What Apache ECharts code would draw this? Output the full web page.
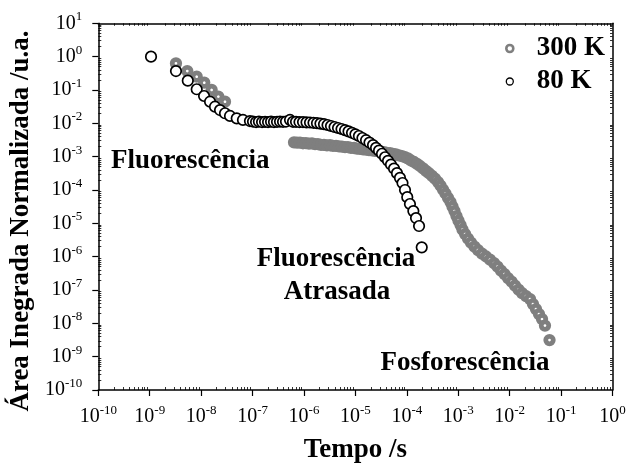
<!DOCTYPE html>
<html>
<head>
<meta charset="utf-8">
<script src="https://cdn.jsdelivr.net/npm/echarts@6/dist/echarts.min.js"></script>
<style>
  html, body { margin: 0; padding: 0; background: #fff; }
  #chart { width: 632px; height: 464px; }
</style>
</head>
<body>
<div id="chart"></div>
<script>
// Integrated emission area vs. time, two temperatures (log-log)

// 300 K: times (s) and normalized integrated area
const t300 = [
  3.24e-9, 5.38e-9, 8.2e-9, 1.15e-8, 1.6e-8, 2.16e-8, 2.91e-8,
  6.4e-7, 7.31e-7, 8.37e-7, 9.57e-7, 1.09e-6, 1.25e-6, 1.43e-6, 1.64e-6, 1.87e-6, 2.14e-6,
  2.45e-6, 2.8e-6, 3.21e-6, 3.66e-6, 4.2e-6, 4.8e-6, 5.48e-6, 6.28e-6, 7.18e-6, 8.2e-6,
  9.4e-6, 1.07e-5, 1.23e-5, 1.41e-5, 1.61e-5, 1.84e-5, 2.1e-5, 2.4e-5, 2.75e-5, 3.15e-5,
  3.6e-5, 4.11e-5, 4.71e-5, 5.38e-5, 6.15e-5, 7.05e-5, 8.05e-5, 9.22e-5, 1.05e-4,
  1.2e-4, 1.38e-4, 1.58e-4, 1.8e-4, 2.07e-4, 2.36e-4, 2.7e-4, 3.09e-4, 3.53e-4, 4.04e-4,
  4.52e-4, 5.06e-4, 5.65e-4, 6.32e-4, 7.07e-4, 7.73e-4, 8.45e-4, 9.25e-4, 1.01e-3, 1.11e-3,
  1.21e-3, 1.36e-3, 1.55e-3, 1.77e-3, 2.07e-3, 2.42e-3, 2.9e-3, 3.47e-3, 4.15e-3, 4.97e-3,
  5.81e-3, 6.79e-3, 7.94e-3, 9.29e-3, 1.09e-2, 1.27e-2, 1.49e-2, 1.74e-2, 2.08e-2, 2.49e-2,
  2.84e-2, 3.25e-2, 3.72e-2, 4.26e-2, 4.86e-2, 5.96e-2
];
const a300 = [
  0.63, 0.37, 0.25, 0.165, 0.1, 0.063, 0.0445,
  2.69e-3, 2.62e-3, 2.64e-3, 2.52e-3, 2.55e-3, 2.47e-3, 2.5e-3, 2.37e-3, 2.36e-3, 2.27e-3,
  2.25e-3, 2.17e-3, 2.2e-3, 2.09e-3, 2.1e-3, 2.02e-3, 2.01e-3, 1.94e-3, 1.92e-3, 1.83e-3,
  1.82e-3, 1.74e-3, 1.72e-3, 1.65e-3, 1.63e-3, 1.56e-3, 1.54e-3, 1.48e-3, 1.46e-3, 1.4e-3,
  1.36e-3, 1.3e-3, 1.27e-3, 1.21e-3, 1.16e-3, 1.09e-3, 1.04e-3, 9.6e-4, 8.9e-4,
  7.66e-4, 6.9e-4, 6.1e-4, 5.24e-4, 4.47e-4, 3.76e-4, 3.18e-4, 2.66e-4, 2.19e-4, 1.73e-4,
  1.36e-4, 1.03e-4, 7.83e-5, 5.81e-5, 4.35e-5, 3.18e-5, 2.33e-5, 1.65e-5, 1.21e-5, 8.87e-6,
  6.5e-6, 4.76e-6, 3.49e-6, 2.65e-6, 2.01e-6, 1.58e-6, 1.24e-6, 1.01e-6, 8.18e-7, 6.43e-7,
  5.05e-7, 3.83e-7, 3.01e-7, 2.28e-7, 1.79e-7, 1.36e-7, 1.03e-7, 8.09e-8, 6.58e-8, 5.35e-8,
  3.78e-8, 2.68e-8, 1.9e-8, 1.34e-8, 8.57e-9, 3.15e-9
];

// 80 K: times (s) and normalized integrated area
const t80 = [
  1.06e-9, 3.24e-9, 5.5e-9, 8.2e-9, 1.14e-8, 1.49e-8, 1.86e-8, 2.33e-8, 2.91e-8, 3.64e-8,
  4.92e-8, 6.5e-8,
  8.9e-8, 1.02e-7, 1.17e-7, 1.33e-7, 1.53e-7, 1.75e-7, 2.0e-7, 2.29e-7, 2.61e-7, 2.99e-7,
  3.42e-7, 3.91e-7, 4.47e-7, 5.35e-7,
  6.11e-7, 7.0e-7, 8.18e-7, 9.57e-7, 1.12e-6, 1.31e-6, 1.53e-6, 1.79e-6, 2.09e-6, 2.45e-6,
  2.87e-6, 3.35e-6, 3.93e-6, 4.59e-6, 5.37e-6, 6.28e-6, 7.35e-6, 8.59e-6, 1.0e-5, 1.17e-5,
  1.37e-5, 1.61e-5, 1.88e-5, 2.2e-5, 2.52e-5, 2.88e-5, 3.29e-5, 3.77e-5, 4.31e-5, 4.92e-5,
  5.64e-5, 6.44e-5, 7.36e-5, 8.24e-5, 9.22e-5, 1.02e-4, 1.15e-4, 1.34e-4, 1.51e-4, 1.73e-4,
  1.95e-4
];
const a80 = [
  1.0, 0.37, 0.19, 0.105, 0.066, 0.0445, 0.0315, 0.025, 0.020, 0.0166,
  0.0141, 0.0126,
  0.0117, 0.0113, 0.0109, 0.0113, 0.0109, 0.0111, 0.0109, 0.0112, 0.0109, 0.0111,
  0.0113, 0.0111, 0.0113, 0.0126,
  0.0111, 0.0111, 0.0109, 0.0109, 0.0107, 0.01057, 0.01035, 0.01007, 0.0098, 0.0094,
  0.0089, 0.0083, 0.00774, 0.00723, 0.00675, 0.00621, 0.00571, 0.00519, 0.00468, 0.00416,
  0.00362, 0.00311, 0.00265, 0.00223, 0.00184, 0.00151, 0.00122, 0.00096, 0.00075, 0.00058,
  0.00044, 0.00032, 0.00023, 0.000162, 0.0001, 6.1e-5, 3.8e-5, 2.33e-5, 1.44e-5, 8.3e-6,
  1.9e-6
];

// Axis decades (exponents of 10) and legend names
const xDecades = [-10, -9, -8, -7, -6, -5, -4, -3, -2, -1, 0];
const yDecades = [-10, -9, -8, -7, -6, -5, -4, -3, -2, -1, 0, 1];
const seriesNames = ['300 K', '80 K'];

const FONT = "'Liberation Serif', 'Times New Roman', Times, serif";
const GRAY = '#7f7f7f';

const zip = (xs, ys) => xs.map((x, i) => [x, ys[i]]);

// minor tick positions 2..9 x 10^k inside each decade
function minorTicks(decades) {
  const out = [];
  for (let i = 0; i < decades.length - 1; i++) {
    for (let m = 2; m <= 9; m++) out.push(m * Math.pow(10, decades[i]));
  }
  return out;
}
const xMinor = minorTicks(xDecades);
const yMinor = minorTicks(yDecades);

const xMin = Math.pow(10, xDecades[0]), xMax = Math.pow(10, xDecades[xDecades.length - 1]);
const yMin = Math.pow(10, yDecades[0]), yMax = Math.pow(10, yDecades[yDecades.length - 1]);

function powLabel(v) {
  const e = Math.round(Math.log10(v));
  return '{b|10}{s|' + e + '}';
}
const labelRich = {
  b: { fontFamily: FONT, fontSize: 20, color: '#000', lineHeight: 26 },
  s: { fontFamily: FONT, fontSize: 13, color: '#000', lineHeight: 11, verticalAlign: 'top' }
};

const axisLineStyle = { color: '#000', width: 1.5 };

const chart = echarts.init(document.getElementById('chart'), null, { renderer: 'canvas' });

chart.setOption({
  animation: false,
  backgroundColor: '#fff',
  grid: {
    left: 98.3, right: 19.5, top: 23.3, bottom: 74,
    containLabel: false, outerBoundsMode: 'none'
  },
  xAxis: [
    {
      type: 'log', logBase: 10, min: xMin, max: xMax, interval: 1, position: 'bottom',
      axisLine: { show: true, lineStyle: axisLineStyle },
      axisTick: { show: true, inside: false, length: 6, lineStyle: { color: '#000', width: 1.2 } },
      axisLabel: { formatter: powLabel, rich: labelRich, margin: 14 },
      splitLine: { show: false },
      name: 'Tempo /s', nameLocation: 'middle', nameGap: 47,
      nameTextStyle: { fontFamily: FONT, fontWeight: 'bold', fontSize: 27, color: '#000' }
    },
    {
      type: 'log', logBase: 10, min: xMin, max: xMax, position: 'bottom',
      axisLine: { show: false }, axisLabel: { show: false }, splitLine: { show: false },
      axisTick: { show: true, inside: true, length: 3, customValues: xMinor, lineStyle: { color: '#000', width: 0.8 } }
    },
    {
      type: 'log', logBase: 10, min: xMin, max: xMax, position: 'top',
      axisLine: { show: true, lineStyle: axisLineStyle }, axisLabel: { show: false }, splitLine: { show: false },
      axisTick: { show: true, inside: true, length: 2.5, customValues: xMinor, lineStyle: { color: '#000', width: 0.8 } }
    }
  ],
  yAxis: [
    {
      type: 'log', logBase: 10, min: yMin, max: yMax, interval: 1, position: 'left',
      axisLine: { show: true, lineStyle: axisLineStyle },
      axisTick: { show: true, inside: false, length: 6, lineStyle: { color: '#000', width: 1.2 } },
      axisLabel: { formatter: powLabel, rich: labelRich, margin: 16 },
      splitLine: { show: false }
    },
    {
      type: 'log', logBase: 10, min: yMin, max: yMax, position: 'left',
      axisLine: { show: false }, axisLabel: { show: false }, splitLine: { show: false },
      axisTick: { show: true, inside: true, length: 3, customValues: yMinor, lineStyle: { color: '#000', width: 0.8 } }
    },
    {
      type: 'log', logBase: 10, min: yMin, max: yMax, position: 'right',
      axisLine: { show: true, lineStyle: axisLineStyle }, axisLabel: { show: false }, splitLine: { show: false },
      axisTick: { show: true, inside: true, length: 2.5, customValues: yMinor, lineStyle: { color: '#000', width: 0.8 } }
    }
  ],
  legend: {
    orient: 'vertical', left: 500, top: 27, align: 'left',
    itemWidth: 44, itemHeight: 7, itemGap: 0,
    textStyle: { fontFamily: FONT, fontWeight: 'bold', fontSize: 27, lineHeight: 33, color: '#000' },
    data: [
      { name: seriesNames[0], icon: 'circle', itemStyle: { color: '#fff', borderColor: GRAY, borderWidth: 2.6 } },
      { name: seriesNames[1], icon: 'circle', itemStyle: { color: '#fff', borderColor: '#000', borderWidth: 1.3 } }
    ]
  },
  series: [
    {
      name: seriesNames[0], type: 'scatter', xAxisIndex: 0, yAxisIndex: 0,
      symbol: 'circle', symbolSize: 7.5,
      itemStyle: { color: '#fff', borderColor: GRAY, borderWidth: 4.8, opacity: 1 },
      data: zip(t300, a300), z: 2
    },
    {
      name: seriesNames[1], type: 'scatter', xAxisIndex: 0, yAxisIndex: 0,
      symbol: 'circle', symbolSize: 10.5,
      itemStyle: { color: '#fff', borderColor: '#000', borderWidth: 1.7, opacity: 1 },
      data: zip(t80, a80), z: 3
    }
  ],
  graphic: [
    {
      type: 'text', x: 21, y: 221, rotation: Math.PI / 2,
      style: { text: 'Área Inegrada Normalizada /u.a.', fontFamily: FONT, fontWeight: 'bold', fontSize: 27,
               fill: '#000', textAlign: 'center', textVerticalAlign: 'middle' }
    },
    {
      type: 'text', x: 111, y: 161,
      style: { text: 'Fluorescência', fontFamily: FONT, fontWeight: 'bold', fontSize: 27,
               fill: '#000', textAlign: 'left', textVerticalAlign: 'middle' }
    },
    {
      type: 'text', x: 336, y: 259,
      style: { text: 'Fluorescência', fontFamily: FONT, fontWeight: 'bold', fontSize: 27,
               fill: '#000', textAlign: 'center', textVerticalAlign: 'middle' }
    },
    {
      type: 'text', x: 337, y: 292,
      style: { text: 'Atrasada', fontFamily: FONT, fontWeight: 'bold', fontSize: 27,
               fill: '#000', textAlign: 'center', textVerticalAlign: 'middle' }
    },
    {
      type: 'text', x: 465, y: 363,
      style: { text: 'Fosforescência', fontFamily: FONT, fontWeight: 'bold', fontSize: 27,
               fill: '#000', textAlign: 'center', textVerticalAlign: 'middle' }
    }
  ]
});
</script>
</body>
</html>
